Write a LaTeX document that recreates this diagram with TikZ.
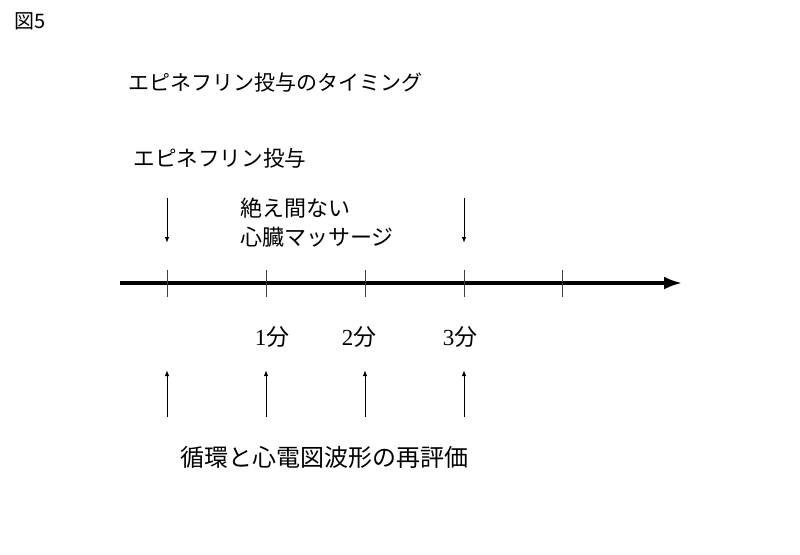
\documentclass[tikz,border=0pt]{standalone}
\usepackage{fontspec}
\setmainfont{Liberation Serif}
\newfontfamily\jpfont{Noto Sans CJK JP}
\usetikzlibrary{arrows.meta}
\begin{document}
\begin{tikzpicture}[x=0.5pt,y=-0.5pt,
    lbl/.style={anchor=west,inner sep=0pt,font=\jpfont\fontsize{11}{14.5}\selectfont},
    minute/.style={inner sep=0pt,font=\fontsize{11.5}{13}\selectfont},
    axis/.style={line width=1.6pt,-{Latex[length=9pt,width=6.5pt]}},
    tick/.style={line width=0.5pt,black!75},
    mark arrow/.style={line width=0.5pt,-{Latex[length=3pt,width=2.2pt]}}]
  \useasboundingbox (0,0) rectangle (800,554);
  \draw
    (14,21) node[lbl,font=\jpfont\fontsize{10}{12}\selectfont] (fig){図5}
    (128,82) node[lbl,font=\jpfont\fontsize{10.5}{12}\selectfont] (title){エピネフリン投与のタイミング}
    (133,158) node[lbl,font=\jpfont\fontsize{10.8}{12}\selectfont] (epi){エピネフリン投与}
    (240,223) node[lbl,align=left] (cpr){絶え間ない\\心臓マッサージ}
    (272,337) node[minute] (m1){1{\jpfont 分}}
    (359,337) node[minute] (m2){2{\jpfont 分}}
    (460,337) node[minute] (m3){3{\jpfont 分}}
    (180,457) node[lbl,font=\jpfont\fontsize{12}{14}\selectfont] (eval){循環と心電図波形の再評価};
  % time axis
  \coordinate (start) at (120,283);
  \coordinate (end) at (682,283);
  \draw[axis] (start) to (end);
  \coordinate (t0a) at (167,270); \coordinate (t0b) at (167,297);
  \coordinate (t1a) at (266,270); \coordinate (t1b) at (266,297);
  \coordinate (t2a) at (365,270); \coordinate (t2b) at (365,297);
  \coordinate (t3a) at (464,270); \coordinate (t3b) at (464,297);
  \coordinate (t4a) at (562,270); \coordinate (t4b) at (562,297);
  \begin{scope}[tick]
    \draw (t0a) to (t0b);
    \draw (t1a) to (t1b);
    \draw (t2a) to (t2b);
    \draw (t3a) to (t3b);
    \draw (t4a) to (t4b);
  \end{scope}
  % epinephrine
  \coordinate (d0a) at (167,198); \coordinate (d0b) at (167,243);
  \coordinate (d3a) at (464,198); \coordinate (d3b) at (464,243);
  % reassessment
  \coordinate (u0a) at (167,417); \coordinate (u0b) at (167,370);
  \coordinate (u1a) at (266,417); \coordinate (u1b) at (266,370);
  \coordinate (u2a) at (365,417); \coordinate (u2b) at (365,370);
  \coordinate (u3a) at (464,417); \coordinate (u3b) at (464,370);
  \begin{scope}[mark arrow]
    \draw (d0a) to (d0b);
    \draw (d3a) to (d3b);
    \draw (u0a) to (u0b);
    \draw (u1a) to (u1b);
    \draw (u2a) to (u2b);
    \draw (u3a) to (u3b);
  \end{scope}
\end{tikzpicture}
\end{document}
